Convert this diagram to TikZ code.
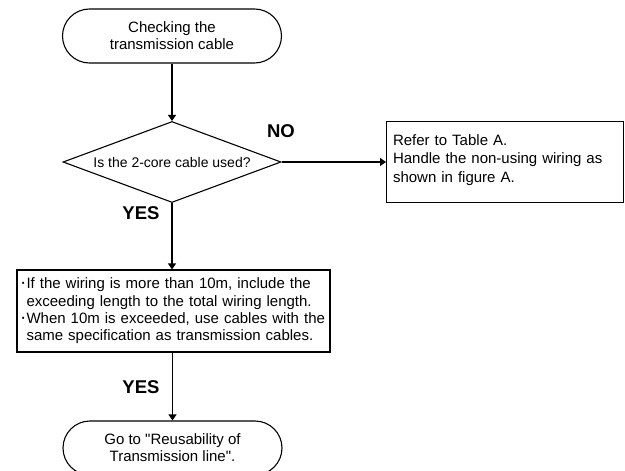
\documentclass[tikz,border=0pt]{standalone}
\usepackage{fontspec}
\setmainfont{Liberation Sans}[Ligatures=TeXOff]
\usetikzlibrary{shapes.geometric,arrows.meta}
\tikzset{
  term/.style={rectangle, draw=black, line width=1.1pt, rounded corners=27pt, minimum width=219pt, minimum height=54pt, align=center, font=\fontsize{15}{17.2}\selectfont},
  dec/.style={diamond, draw=black, line width=1.1pt, aspect=2.69, inner sep=0pt, minimum width=218pt, minimum height=81pt, font=\fontsize{14}{16}\selectfont},
  txtbox/.style={rectangle, draw=black, line width=1.1pt, align=left, font=\fontsize{15}{17.3}\selectfont},
  ans/.style={font=\fontsize{18.5}{20}\selectfont\bfseries, inner sep=0pt},
  flow/.style={draw=black, line width=1.1pt, -{Triangle[length=6pt,width=8pt]}},
  chart/.style={x=1pt, y=-1pt}
}
\newcommand{\itemdot}{\makebox[6pt][l]{\hspace*{-0.5pt}{\fontsize{19}{17}\selectfont·}}}

\begin{document}
\begin{tikzpicture}[chart]
  \clip (0,0) rectangle (625,471);
  \node[term] (start) at (172,36) {Checking the\\transmission cable};
  \node[dec] (cable) at (172,162) {Is the 2-core cable used?};
  \node[txtbox, anchor=north west, text width=224pt, inner xsep=6.5pt, inner ysep=12pt, text height=11.5pt, text depth=45.5pt, font=\fontsize{15}{18.5}\selectfont] (refer) at (386,121) {Refer to Table A.\\Handle the non-using wiring as\\shown in figure A.};
  \node[txtbox, text width=306pt, inner xsep=3.5pt, minimum height=82pt] (wiring) at (173.5,311) {\itemdot If the wiring is more than 10m, include the\\\hspace*{6pt}exceeding length to the total wiring length.\\\itemdot When 10m is exceeded, use cables with the\\\hspace*{6pt}same specification as transmission cables.};
  \node[term] (goto) at (172.5,448) {Go to "Reusability of\\Transmission line".};
  \node[ans] (no) at (281,131) {NO};
  \node[ans] (yes1) at (141,213) {YES};
  \node[ans] (yes2) at (141,387) {YES};
  \draw[flow] (start) -- (cable);
  \draw[flow] (cable.east) -- (refer.west |- cable.east);
  \draw[flow] (cable.south) -- (cable.south |- wiring.north);
  \draw[flow] (wiring.south -| goto.north) -- (goto);
\end{tikzpicture}
\end{document}
